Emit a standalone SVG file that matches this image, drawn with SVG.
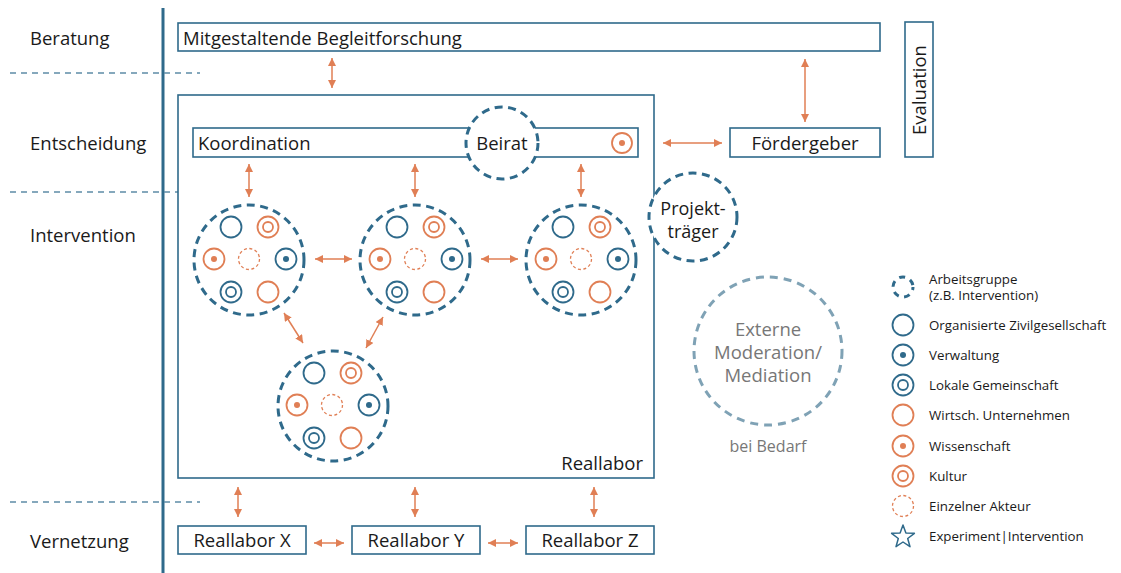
<svg xmlns="http://www.w3.org/2000/svg" width="1121" height="573" viewBox="0 0 1121 573">
<defs>
<style>
text{font-family:"Open Sans","Noto Sans","Liberation Sans",sans-serif;fill:#1a1a1a}
.lbl{font-size:18.5px}
.leg{font-size:13.3px}
.box{fill:#fff;stroke:#2f6a8b;stroke-width:1.6}
.sep{stroke:#5e8ca6;stroke-width:1.5;stroke-dasharray:6 5;fill:none}
.arr{stroke:#e07f55;stroke-width:1.5;fill:none;marker-start:url(#ah);marker-end:url(#ah)}
.grp{fill:#fff;stroke:#2f6a8b;stroke-width:3;stroke-dasharray:8 5.5}
.b{fill:none;stroke:#2f6a8b;stroke-width:1.8}
.o{fill:none;stroke:#e07f55;stroke-width:1.8}
.od{fill:none;stroke:#e07f55;stroke-width:1.3;stroke-dasharray:3 2.5}
.bf{fill:#2f6a8b}
.of{fill:#e07f55}
.gray{fill:#777}
</style>
<marker id="ah" markerUnits="userSpaceOnUse" markerWidth="9" markerHeight="9" refX="8" refY="4" orient="auto-start-reverse">
<path d="M0,0 L8,4 L0,8 z" fill="#e07f55"/>
</marker>
<g id="ag">
<circle cx="-18" cy="-32" r="10.5" class="b"/>
<circle cx="19" cy="-32" r="10.5" class="o"/><circle cx="19" cy="-32" r="5" class="o"/>
<circle cx="-35" cy="0" r="10.5" class="o"/><circle cx="-35" cy="0" r="3" class="of"/>
<circle cx="0" cy="0" r="10.5" class="od"/>
<circle cx="37" cy="0" r="10.5" class="b"/><circle cx="37" cy="0" r="3" class="bf"/>
<circle cx="-18" cy="33" r="10.5" class="b"/><circle cx="-18" cy="33" r="5" class="b"/>
<circle cx="19" cy="33" r="10.5" class="o"/>
</g>
</defs>
<rect width="1121" height="573" fill="#fff"/>

<g id="axis">
<line x1="163" y1="8" x2="163" y2="573" stroke="#2f6a8b" stroke-width="3"/>
<line x1="10" y1="73" x2="200" y2="73" class="sep"/>
<line x1="10" y1="192" x2="200" y2="192" class="sep"/>
<line x1="10" y1="502" x2="200" y2="502" class="sep"/>
<text x="30" y="45" class="lbl">Beratung</text>
<text x="30" y="150" class="lbl">Entscheidung</text>
<text x="30" y="242" class="lbl">Intervention</text>
<text x="30" y="548" class="lbl">Vernetzung</text>
</g>

<g id="begleitforschung">
<rect x="178" y="23" width="702" height="28" class="box"/>
<text x="183" y="44.5" class="lbl">Mitgestaltende Begleitforschung</text>
</g>

<g id="evaluation">
<rect x="905" y="22" width="28" height="135" class="box"/>
<text transform="translate(926,90) rotate(-90)" text-anchor="middle" class="lbl">Evaluation</text>
</g>

<g id="reallabor">
<rect x="178" y="95" width="476" height="383" class="box"/>
<text x="643" y="470" text-anchor="end" class="lbl">Reallabor</text>
</g>

<g id="koordination">
<rect x="193" y="128" width="445" height="29" class="box"/>
<text x="198" y="149.5" class="lbl">Koordination</text>
<circle cx="622" cy="143" r="10" class="o"/><circle cx="622" cy="143" r="3" class="of"/>
</g>

<g id="beirat">
<circle cx="502" cy="143" r="36" class="grp" stroke-dasharray="8 6"/>
<text x="502" y="149.5" text-anchor="middle" class="lbl">Beirat</text>
</g>

<g id="foerdergeber">
<rect x="730" y="128" width="150" height="29" class="box"/>
<text x="805" y="149.5" text-anchor="middle" class="lbl">Fördergeber</text>
</g>

<g id="projekttraeger">
<circle cx="693" cy="217" r="44" class="grp" stroke-dasharray="8 6"/>
<text x="693" y="215" text-anchor="middle" font-size="18px">Projekt-</text>
<text x="693" y="238" text-anchor="middle" font-size="18px">träger</text>
</g>

<g id="gruppe1">
<circle cx="249" cy="260" r="55" class="grp"/>
<use href="#ag" x="249" y="259"/>
</g>
<g id="gruppe2">
<circle cx="415" cy="260" r="55" class="grp"/>
<use href="#ag" x="415" y="259"/>
</g>
<g id="gruppe3">
<circle cx="581" cy="260" r="55" class="grp"/>
<use href="#ag" x="581" y="259"/>
</g>
<g id="gruppe4">
<circle cx="333" cy="406" r="55" class="grp"/>
<use href="#ag" x="332" y="405"/>
</g>

<g id="moderation">
<circle cx="768" cy="351" r="74" fill="none" stroke="#7fa2b5" stroke-width="3" stroke-dasharray="8 6"/>
<text x="768" y="336" text-anchor="middle" class="lbl gray">Externe</text>
<text x="768" y="359" text-anchor="middle" class="lbl gray">Moderation/</text>
<text x="768" y="382" text-anchor="middle" class="lbl gray">Mediation</text>
<text x="768" y="452" text-anchor="middle" class="gray" font-size="16">bei Bedarf</text>
</g>

<g id="reallaborX">
<rect x="178" y="526" width="128" height="28" class="box"/>
<text x="242" y="547" text-anchor="middle" class="lbl">Reallabor X</text>
</g>
<g id="reallaborY">
<rect x="352" y="526" width="128" height="28" class="box"/>
<text x="416" y="547" text-anchor="middle" class="lbl">Reallabor Y</text>
</g>
<g id="reallaborZ">
<rect x="526" y="526" width="128" height="28" class="box"/>
<text x="590" y="547" text-anchor="middle" class="lbl">Reallabor Z</text>
</g>

<g id="connectors">
<line x1="332" y1="58" x2="332" y2="88" class="arr"/>
<line x1="805" y1="59" x2="805" y2="122" class="arr"/>
<line x1="663" y1="143" x2="722" y2="143" class="arr"/>
<line x1="249" y1="164" x2="249" y2="197" class="arr"/>
<line x1="415" y1="164" x2="415" y2="197" class="arr"/>
<line x1="581" y1="164" x2="581" y2="197" class="arr"/>
<line x1="315" y1="259" x2="352" y2="259" class="arr"/>
<line x1="481" y1="259" x2="518" y2="259" class="arr"/>
<line x1="284" y1="313" x2="303" y2="343" class="arr"/>
<line x1="383" y1="317" x2="366" y2="348" class="arr"/>
<line x1="238" y1="487" x2="238" y2="517" class="arr"/>
<line x1="415" y1="487" x2="415" y2="517" class="arr"/>
<line x1="594" y1="487" x2="594" y2="517" class="arr"/>
<line x1="314" y1="543" x2="344" y2="543" class="arr"/>
<line x1="488" y1="543" x2="518" y2="543" class="arr"/>
</g>

<g id="legend">
<circle cx="903" cy="287" r="10" fill="none" stroke="#2f6a8b" stroke-width="3" stroke-dasharray="6 5.5" stroke-dashoffset="3"/>
<text x="929" y="284" class="leg">Arbeitsgruppe</text>
<text x="929" y="300" class="leg">(z.B. Intervention)</text>
<circle cx="903" cy="325" r="10.5" class="b"/>
<text x="929" y="330" class="leg">Organisierte Zivilgesellschaft</text>
<circle cx="903" cy="355" r="10.5" class="b"/><circle cx="903" cy="355" r="3" class="bf"/>
<text x="929" y="360" class="leg">Verwaltung</text>
<circle cx="903" cy="385" r="10.5" class="b"/><circle cx="903" cy="385" r="5" class="b"/>
<text x="929" y="390" class="leg">Lokale Gemeinschaft</text>
<circle cx="903" cy="415" r="10.5" class="o"/>
<text x="929" y="420" class="leg">Wirtsch. Unternehmen</text>
<circle cx="903" cy="446" r="10.5" class="o"/><circle cx="903" cy="446" r="3" class="of"/>
<text x="929" y="451" class="leg">Wissenschaft</text>
<circle cx="903" cy="476" r="10.5" class="o"/><circle cx="903" cy="476" r="5" class="o"/>
<text x="929" y="481" class="leg">Kultur</text>
<circle cx="903" cy="506" r="10.5" class="od"/>
<text x="929" y="511" class="leg">Einzelner Akteur</text>
<polygon points="903,525 905.9,533 914.4,533.3 907.7,538.5 910,546.7 903,542 896,546.7 898.3,538.5 891.6,533.3 900.1,533" fill="none" stroke="#2f6a8b" stroke-width="1.5" stroke-linejoin="round"/>
<text x="929" y="541" class="leg">Experiment|Intervention</text>
</g>
</svg>
